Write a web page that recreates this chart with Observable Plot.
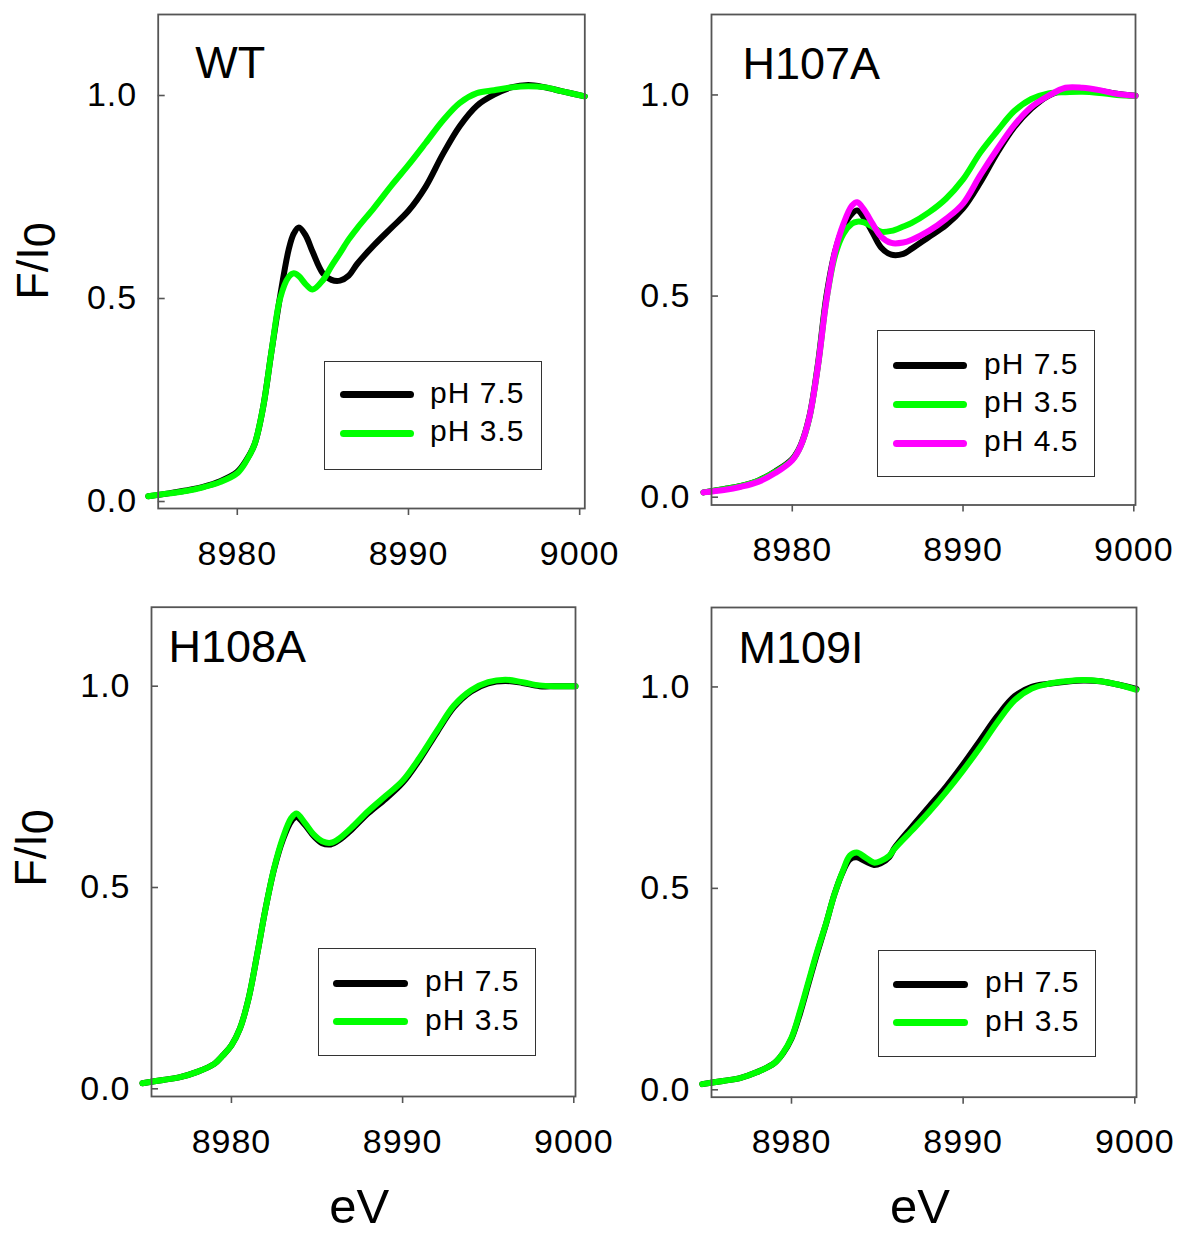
<!DOCTYPE html>
<html>
<head>
<meta charset="utf-8">
<script src="https://cdn.jsdelivr.net/npm/d3@7"></script>
<script src="https://cdn.jsdelivr.net/npm/@observablehq/plot@0.6"></script>
<style>
  html, body { margin: 0; padding: 0; background: #fff; }
  #root { position: relative; width: 1178px; height: 1235px; overflow: hidden; font-family: "Liberation Sans", Arial, sans-serif; color: #000; }
  #root svg { position: absolute; overflow: visible; }
  g[aria-label="x-axis tick label"], g[aria-label="y-axis tick label"] { letter-spacing: 1px; }
  .lbl { position: absolute; white-space: nowrap; line-height: 1; }
  .legend { position: absolute; border: 1.5px solid #333; background: #fff; box-sizing: border-box; }
</style>
</head>
<body>
<div id="root"></div>
<script>
// ---------------- data ----------------
const xTicks = [8980, 8990, 9000];
const yTicks = [0, 0.5, 1.0];
const labels = ["pH 7.5", "pH 3.5", "pH 4.5"];
const colors = ["#000000", "#00ff00", "#ff00ff"];

// WT
const E_WT = [8974.8, 8976, 8977, 8978, 8979, 8980, 8980.5, 8981, 8981.5, 8982, 8982.5, 8983, 8983.3, 8983.6, 8984, 8984.4, 8985, 8985.5, 8986, 8986.5, 8987, 8988, 8989, 8990, 8991, 8992, 8993, 8994, 8995, 8996, 8997, 8998, 8999, 9000.3];
const WT_pH75 = [0.013, 0.02, 0.027, 0.036, 0.05, 0.073, 0.10, 0.14, 0.23, 0.37, 0.505, 0.62, 0.66, 0.675, 0.655, 0.615, 0.562, 0.546, 0.544, 0.556, 0.585, 0.632, 0.674, 0.716, 0.775, 0.855, 0.925, 0.975, 1.002, 1.02, 1.026, 1.02, 1.01, 0.998];
const WT_pH35 = [0.013, 0.02, 0.026, 0.035, 0.048, 0.07, 0.098, 0.14, 0.23, 0.37, 0.50, 0.553, 0.562, 0.555, 0.535, 0.522, 0.545, 0.58, 0.612, 0.645, 0.673, 0.724, 0.778, 0.829, 0.883, 0.938, 0.982, 1.006, 1.013, 1.02, 1.023, 1.02, 1.01, 0.998];

// H107A
const E_H107A = [8974.8, 8976, 8977, 8978, 8979, 8980, 8980.5, 8981, 8981.5, 8982, 8982.5, 8983, 8983.5, 8983.8, 8984.2, 8984.7, 8985.2, 8985.8, 8986.5, 8987, 8988, 8989, 8990, 8991, 8992, 8993, 8994, 8995, 8996, 8997, 8998, 8999, 9000.1];
const H107A_pH75 = [0.012, 0.02, 0.028, 0.041, 0.064, 0.095, 0.13, 0.2, 0.33, 0.5, 0.61, 0.672, 0.705, 0.713, 0.695, 0.658, 0.621, 0.603, 0.605, 0.618, 0.647, 0.676, 0.718, 0.782, 0.856, 0.92, 0.966, 0.998, 1.012, 1.015, 1.01, 1.003, 0.998];
const H107A_pH35 = [0.012, 0.02, 0.028, 0.041, 0.063, 0.093, 0.128, 0.197, 0.325, 0.49, 0.6, 0.655, 0.68, 0.685, 0.683, 0.672, 0.66, 0.662, 0.673, 0.682, 0.708, 0.742, 0.79, 0.856, 0.91, 0.96, 0.99, 1.004, 1.007, 1.008, 1.005, 1.0, 0.998];
const H107A_pH45 = [0.012, 0.018, 0.026, 0.038, 0.06, 0.092, 0.128, 0.198, 0.325, 0.49, 0.61, 0.68, 0.725, 0.733, 0.715, 0.68, 0.648, 0.632, 0.633, 0.64, 0.662, 0.692, 0.73, 0.8, 0.865, 0.925, 0.97, 0.998, 1.018, 1.018, 1.012, 1.003, 0.998];

// H108A
const E_H108A = [8974.8, 8976, 8977, 8978, 8979, 8979.5, 8980, 8980.5, 8981, 8981.5, 8982, 8982.5, 8983, 8983.5, 8983.8, 8984.3, 8984.8, 8985.3, 8985.8, 8986.3, 8987, 8988, 8989, 8990, 8991, 8992, 8993, 8994, 8995, 8996, 8997, 8998, 8999, 9000.1];
const H108A_pH75 = [0.014, 0.022, 0.029, 0.042, 0.062, 0.083, 0.108, 0.15, 0.224, 0.333, 0.449, 0.547, 0.618, 0.665, 0.675, 0.655, 0.628, 0.61, 0.607, 0.618, 0.643, 0.685, 0.72, 0.76, 0.818, 0.885, 0.948, 0.987, 1.007, 1.013, 1.008, 1.0, 1.0, 1.0];
const H108A_pH35 = [0.014, 0.022, 0.029, 0.042, 0.062, 0.083, 0.108, 0.15, 0.224, 0.333, 0.449, 0.549, 0.623, 0.673, 0.684, 0.66, 0.632, 0.615, 0.611, 0.622, 0.648, 0.69, 0.727, 0.765, 0.823, 0.889, 0.952, 0.99, 1.01, 1.016, 1.01, 1.002, 1.0, 1.0];

// M109I
const E_M109I = [8974.8, 8976, 8977, 8978, 8979, 8979.5, 8980, 8980.5, 8981, 8981.5, 8982, 8982.5, 8983, 8983.4, 8983.8, 8984.3, 8984.8, 8985.2, 8985.7, 8986, 8987, 8988, 8989, 8990, 8991, 8992, 8993, 8994, 8995, 8996, 8997, 8998, 8999, 9000.1];
const M109I_pH75 = [0.014, 0.022, 0.029, 0.044, 0.066, 0.09, 0.127, 0.19, 0.265, 0.34, 0.41, 0.485, 0.542, 0.572, 0.577, 0.567, 0.558, 0.562, 0.578, 0.6, 0.652, 0.702, 0.752, 0.808, 0.868, 0.928, 0.977, 1.0, 1.008, 1.013, 1.016, 1.014, 1.006, 0.995];
const M109I_pH35 = [0.014, 0.022, 0.029, 0.044, 0.066, 0.091, 0.129, 0.195, 0.27, 0.344, 0.411, 0.485, 0.544, 0.581, 0.589, 0.577, 0.564, 0.568, 0.581, 0.598, 0.643, 0.689, 0.739, 0.793, 0.851, 0.913, 0.967, 0.996, 1.008, 1.014, 1.017, 1.014, 1.006, 0.993];

// ---------------- layout ----------------
const root = document.getElementById("root");
const FONT = "'Liberation Sans', Arial, sans-serif";

function panel(cfg) {
  const {E, series, title, left, top, width, height, frame, xDomain, yDomain, titleDx, titleDy} = cfg;
  const lineMarks = series.map(s =>
    Plot.line(E.map((e, i) => ({E: e, v: s.values[i]})), {
      x: "E", y: "v", stroke: s.color, strokeWidth: 6,
      curve: "catmull-rom", strokeLinejoin: "round", strokeLinecap: "round"
    })
  );
  const svg = Plot.plot({
    width, height,
    marginLeft: frame[0] - left,
    marginRight: left + width - frame[1],
    marginTop: frame[2] - top,
    marginBottom: top + height - frame[3],
    x: {domain: xDomain},
    y: {domain: yDomain},
    style: {fontFamily: FONT, color: "#000", background: "transparent", overflow: "visible"},
    marks: [
      ...lineMarks,
      Plot.frame({stroke: "#555", strokeWidth: 1.8}),
      Plot.axisX(xTicks, {tickSize: 7, tickPadding: 25, fontSize: 34, tickFormat: d3.format("d"), stroke: "#555", fill: "#000", strokeWidth: 1.6, label: null}),
      Plot.axisY(yTicks, {tickSize: -7, tickPadding: 28, fontSize: 34, tickFormat: d3.format(".1f"), stroke: "#555", fill: "#000", strokeWidth: 1.6, label: null}),
      Plot.text([title], {frameAnchor: "top-left", text: d => d, dx: titleDx, dy: titleDy, fontSize: 45, textAnchor: "start", lineAnchor: "bottom", fill: "#000"})
    ]
  });
  svg.style.left = left + "px";
  svg.style.top = top + "px";
  root.appendChild(svg);
}

function legend(cfg) {
  const {box, rows, lineX, textX, names, cols} = cfg;
  const b = document.createElement("div");
  b.className = "legend";
  Object.assign(b.style, {left: box[0] + "px", top: box[1] + "px", width: (box[2] - box[0]) + "px", height: (box[3] - box[1]) + "px"});
  root.appendChild(b);
  names.forEach((n, i) => {
    const ln = document.createElement("div");
    Object.assign(ln.style, {position: "absolute", left: lineX[0] + "px", top: (rows[i] - 3.5) + "px", width: (lineX[1] - lineX[0]) + "px", height: "7px", borderRadius: "3.5px", background: cols[i]});
    root.appendChild(ln);
    const t = document.createElement("div");
    t.className = "lbl";
    t.textContent = n;
    Object.assign(t.style, {left: textX + "px", top: (rows[i] + 8.5 - 0.847 * 30) + "px", fontSize: "30px", letterSpacing: "1px"});
    root.appendChild(t);
  });
}

panel({E: E_WT, title: "WT", left: 0, top: 0, width: 600, height: 590,
  frame: [157.7, 584.3, 14, 508], xDomain: [8975.38, 9000.3], yDomain: [-0.0172, 1.1995], titleDx: 37, titleDy: 63,
  series: [{values: WT_pH75, color: colors[0]}, {values: WT_pH35, color: colors[1]}]});
panel({E: E_H107A, title: "H107A", left: 600, top: 0, width: 578, height: 590,
  frame: [711, 1135, 14, 504.5], xDomain: [8975.27, 9000.1], yDomain: [-0.0194, 1.2], titleDx: 31, titleDy: 64,
  series: [{values: H107A_pH75, color: colors[0]}, {values: H107A_pH35, color: colors[1]}, {values: H107A_pH45, color: colors[2]}]});
panel({E: E_H108A, title: "H108A", left: 0, top: 590, width: 600, height: 645,
  frame: [151, 575, 606.7, 1096], xDomain: [8975.33, 9000.1], yDomain: [-0.0191, 1.1962], titleDx: 17, titleDy: 55,
  series: [{values: H108A_pH75, color: colors[0]}, {values: H108A_pH35, color: colors[1]}]});
panel({E: E_M109I, title: "M109I", left: 600, top: 590, width: 578, height: 645,
  frame: [711, 1136, 607, 1096.7], xDomain: [8975.34, 9000.1], yDomain: [-0.0184, 1.1972], titleDx: 27, titleDy: 55,
  series: [{values: M109I_pH75, color: colors[0]}, {values: M109I_pH35, color: colors[1]}]});

legend({box: [323.5, 360.5, 542, 469.5], rows: [394.9, 433.3], lineX: [339.5, 413.7], textX: 430, names: labels.slice(0, 2), cols: colors.slice(0, 2)});
legend({box: [877, 330.4, 1095, 477], rows: [365.5, 404.3, 443.1], lineX: [893, 967], textX: 984, names: labels, cols: colors});
legend({box: [318.3, 948.3, 536, 1056], rows: [983.3, 1021.7], lineX: [332.7, 408.3], textX: 425, names: labels.slice(0, 2), cols: colors.slice(0, 2)});
legend({box: [878.3, 950, 1096, 1057], rows: [984, 1022.7], lineX: [892.7, 968.3], textX: 985, names: labels.slice(0, 2), cols: colors.slice(0, 2)});

// axis titles
function yTitle(cx, cy) {
  const d = document.createElement("div");
  d.className = "lbl";
  d.innerHTML = 'F/I<span style="position:relative;top:7px">0</span>';
  Object.assign(d.style, {left: cx + "px", top: cy + "px", fontSize: "45px", transform: "translate(-50%,-50%) rotate(-90deg)"});
  root.appendChild(d);
}
function xTitle(cx, baseline) {
  const d = document.createElement("div");
  d.className = "lbl";
  d.textContent = "eV";
  Object.assign(d.style, {left: cx + "px", top: (baseline - 0.847 * 49) + "px", fontSize: "49px", transform: "translateX(-50%)"});
  root.appendChild(d);
}
yTitle(32, 260.6);
yTitle(30, 848.4);
xTitle(359.2, 1224);
xTitle(920, 1224);
</script>
</body>
</html>
